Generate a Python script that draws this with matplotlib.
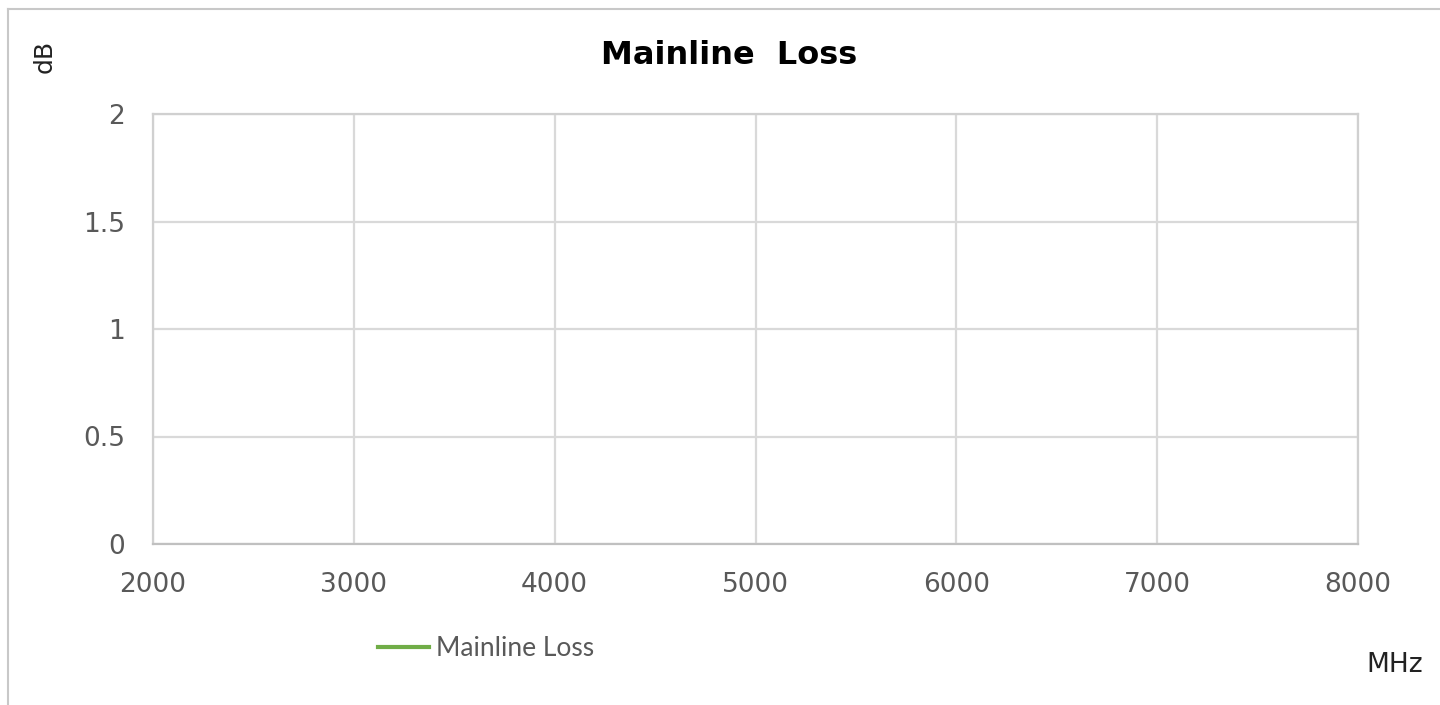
import matplotlib
matplotlib.use("Agg")
import matplotlib.pyplot as plt
from matplotlib.lines import Line2D

# Data (the reference shows no visible data points for the series)
freq_mhz = []
mainline_loss_db = []

x_ticks = [2000, 3000, 4000, 5000, 6000, 7000, 8000]
y_ticks = [0, 0.5, 1, 1.5, 2]
y_tick_labels = ["0", "0.5", "1", "1.5", "2"]
series_name = "Mainline Loss"

W, H = 1440, 705
fig = plt.figure(figsize=(W / 100, H / 100), dpi=100)
fig.patch.set_facecolor("white")

# outer border (top and left visible)
fig.add_artist(Line2D([8 / W, 1], [1 - 9 / H, 1 - 9 / H], color="#c8c8c8", lw=1.5, transform=fig.transFigure))
fig.add_artist(Line2D([8 / W, 8 / W], [0, 1 - 9 / H], color="#c8c8c8", lw=1.5, transform=fig.transFigure))

ax = fig.add_axes([153 / W, 1 - 544 / H, (1358 - 153) / W, (544 - 114) / H])
ax.plot(freq_mhz, mainline_loss_db, color="#70ad47", lw=3, label=series_name)

ax.set_xlim(2000, 8000)
ax.set_ylim(0, 2)
ax.set_xticks(x_ticks)
ax.set_yticks(y_ticks)
ax.set_yticklabels(y_tick_labels)
ax.grid(True, color="#d9d9d9", lw=1.6)
ax.set_axisbelow(True)
for s in ax.spines.values():
    s.set_color("#d0d0d0")
    s.set_linewidth(1.6)
ax.spines["bottom"].set_color("#c0c0c0")
ax.tick_params(length=0, labelsize=19, colors="#595959")
ax.tick_params(axis="x", pad=20)
ax.tick_params(axis="y", pad=20)

fig.text(729 / W, 1 - 55 / H, "Mainline  Loss", ha="center", va="center",
         fontsize=23, fontweight="bold", color="black")
fig.text(45 / W, 1 - 56 / H, "dB", ha="center", va="center", rotation=90,
         fontsize=18, color="#222222")
fig.text(1395 / W, 1 - 665 / H, "MHz", ha="center", va="center",
         fontsize=19, color="#222222")

leg = fig.legend(loc="center left", bbox_to_anchor=(354 / W, 1 - 649 / H), frameon=False,
                 handles=[Line2D([0], [0], color="#70ad47", lw=3)], labels=[series_name],
                 prop={"family": "Lato", "size": 19}, handlelength=1.95, handletextpad=0.25)
for t in leg.get_texts():
    t.set_color("#595959")

fig.savefig("out.png", dpi=100, facecolor="white")
